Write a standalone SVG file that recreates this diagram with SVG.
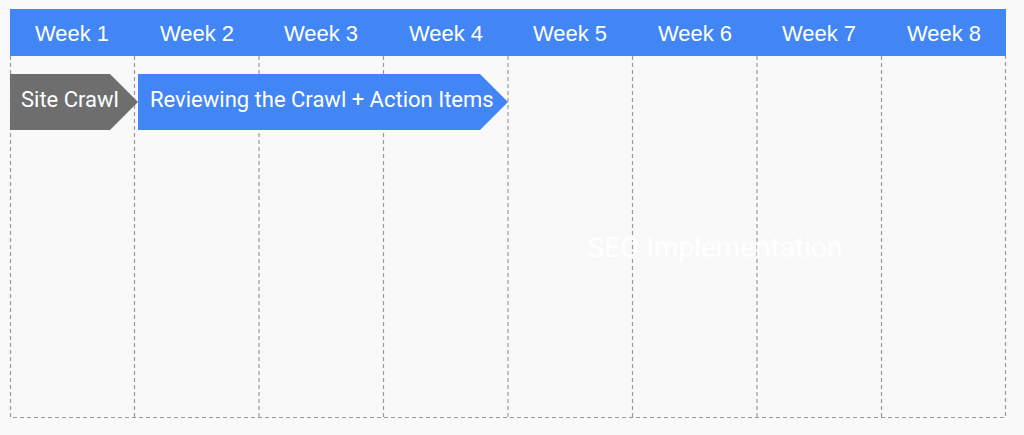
<svg xmlns="http://www.w3.org/2000/svg" width="1024" height="435" viewBox="0 0 1024 435">
<style>
.bg{fill:#f9f9f9}
.hdr{fill:#4285f4}
.wk{font-family:"Liberation Sans",Arial,sans-serif;font-size:22px;fill:#ffffff;text-anchor:middle}
.grid{stroke:#9a9a9a;stroke-width:1.2;stroke-dasharray:4 3;fill:none}
.lbl{font-family:Roboto,"Liberation Sans",sans-serif;font-size:22px;fill:#ffffff}
</style>
<rect class="bg" x="0" y="0" width="1024" height="435"/>
<g id="grid">
<path class="grid" d="M10.5 56V417.5H1005.5V56M134.5 56V417M259 56V417M383.5 56V417M508 56V417M632.5 56V417M757 56V417M881.5 56V417"/>
</g>
<g id="header">
<rect class="hdr" x="10" y="9" width="996" height="47"/>
<text class="wk" x="72" y="41">Week 1</text>
<text class="wk" x="197" y="41">Week 2</text>
<text class="wk" x="321" y="41">Week 3</text>
<text class="wk" x="446" y="41">Week 4</text>
<text class="wk" x="570" y="41">Week 5</text>
<text class="wk" x="695" y="41">Week 6</text>
<text class="wk" x="819" y="41">Week 7</text>
<text class="wk" x="944" y="41">Week 8</text>
</g>
<g id="site-crawl">
<polygon points="10,74 110,74 138,102 110,130 10,130" fill="#6e6e6e"/>
<text class="lbl" x="21" y="107">Site Crawl</text>
</g>
<g id="reviewing">
<polygon points="138,74 480,74 508,102 480,130 138,130" fill="#4285f4"/>
<text class="lbl" x="150" y="107">Reviewing the Crawl + Action Items</text>
</g>
<g id="seo-implementation">
<text x="715" y="257" font-family="Roboto,'Liberation Sans',sans-serif" font-size="28" fill="#ffffff" text-anchor="middle">SEO Implementation</text>
</g>
</svg>
